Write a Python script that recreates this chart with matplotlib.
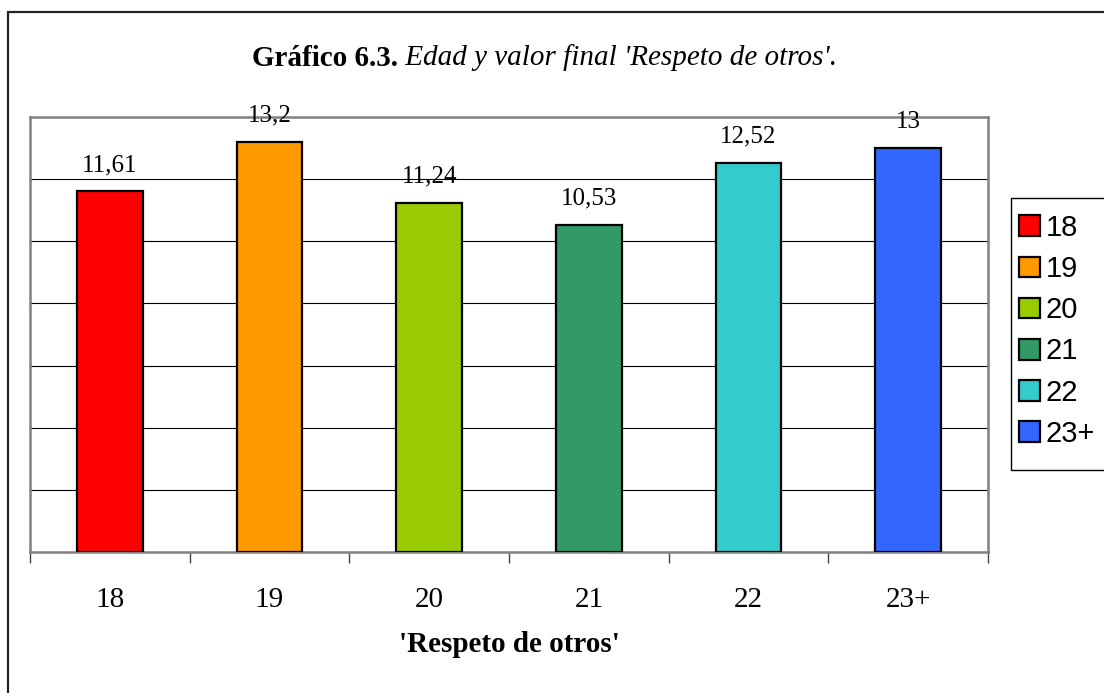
import matplotlib
matplotlib.use('Agg')
import matplotlib.pyplot as plt
from matplotlib.patches import Rectangle, Patch
import numpy as np

W, H = 1104, 693

edades = ['18', '19', '20', '21', '22', '23+']
valores = [11.61, 13.2, 11.24, 10.53, 12.52, 13.0]
etiquetas = ['11,61', '13,2', '11,24', '10,53', '12,52', '13']
colores = ['#FF0000', '#FF9900', '#99CC00', '#339966', '#33CCCC', '#3366FF']

SERIF = 'Liberation Serif'
SANS = 'Liberation Sans'

fig = plt.figure(figsize=(W / 100, H / 100), dpi=100)

# outer frame of the chart object (right and bottom edges fall outside the image)
fig.patches.append(Rectangle((8 / W, -0.2), 1.2, 1.2 - 12 / H, transform=fig.transFigure,
                             fill=False, edgecolor='#222222', lw=1.6, clip_on=False))

left, right, top, bottom = 30, 988, 117, 552
ax = fig.add_axes([left / W, 1 - bottom / H, (right - left) / W, (bottom - top) / H])

x = np.arange(len(edades))
bars = ax.bar(x, valores, width=0.41, color=colores, edgecolor='black', linewidth=1.6, zorder=3)

for b, lab in zip(bars, etiquetas):
    ax.annotate(lab, (b.get_x() + b.get_width() / 2, b.get_height()),
                xytext=(0, 11), textcoords='offset points', ha='center', va='bottom',
                fontsize=18, family=SERIF, annotation_clip=False)

ax.set_xlim(-0.5, len(edades) - 0.5)
ax.set_ylim(0, 14)
ax.set_yticks(np.arange(2, 14, 2))
ax.tick_params(axis='y', length=0, labelleft=False)
ax.yaxis.grid(True, color='black', lw=0.8, zorder=0)

ax.set_xticks(x)
ax.set_xticklabels(edades, family=SERIF, fontsize=21)
ax.set_xticks(np.arange(-0.5, len(edades), 1), minor=True)
ax.tick_params(axis='x', which='major', length=0, pad=25)
ax.tick_params(axis='x', which='minor', length=8, width=1, direction='out', color='#444444')

for s in ax.spines.values():
    s.set_color('#808080')
    s.set_linewidth(1.8)

ax.set_xlabel("'Respeto de otros'", family=SERIF, fontsize=21, fontweight='bold', labelpad=13)

# title: bold part + italic part, centred together
fig.canvas.draw()
r = fig.canvas.get_renderer()
t1 = fig.text(0, 1 - 58 / H, 'Gráfico 6.3.', family=SERIF, fontsize=21, fontweight='bold', va='center')
t2 = fig.text(0, 1 - 58 / H, " Edad y valor final 'Respeto de otros'.", family=SERIF, fontsize=21,
              style='italic', va='center')
w1 = t1.get_window_extent(r).width
w2 = t2.get_window_extent(r).width
x0 = 545 - (w1 + w2) / 2
t1.set_x(x0 / W)
t2.set_x((x0 + w1) / W)

# legend box drawn separately so its padding matches the original
fig.patches.append(Rectangle((1011 / W, 1 - 470 / H), 0.2, (470 - 198) / H, transform=fig.transFigure,
                             fill=True, facecolor='white', edgecolor='black', lw=1, clip_on=False))
handles = [Patch(facecolor=c, edgecolor='black', lw=1.6) for c in colores]
leg = fig.legend(handles, edades, loc='upper left', bbox_to_anchor=(1019 / W, 1 - 214 / H),
                 prop={'family': SANS, 'size': 21}, frameon=False,
                 handlelength=0.72, handleheight=0.72, handletextpad=0.2,
                 labelspacing=0.45, borderpad=0, borderaxespad=0)

fig.savefig('out.png', dpi=100)
